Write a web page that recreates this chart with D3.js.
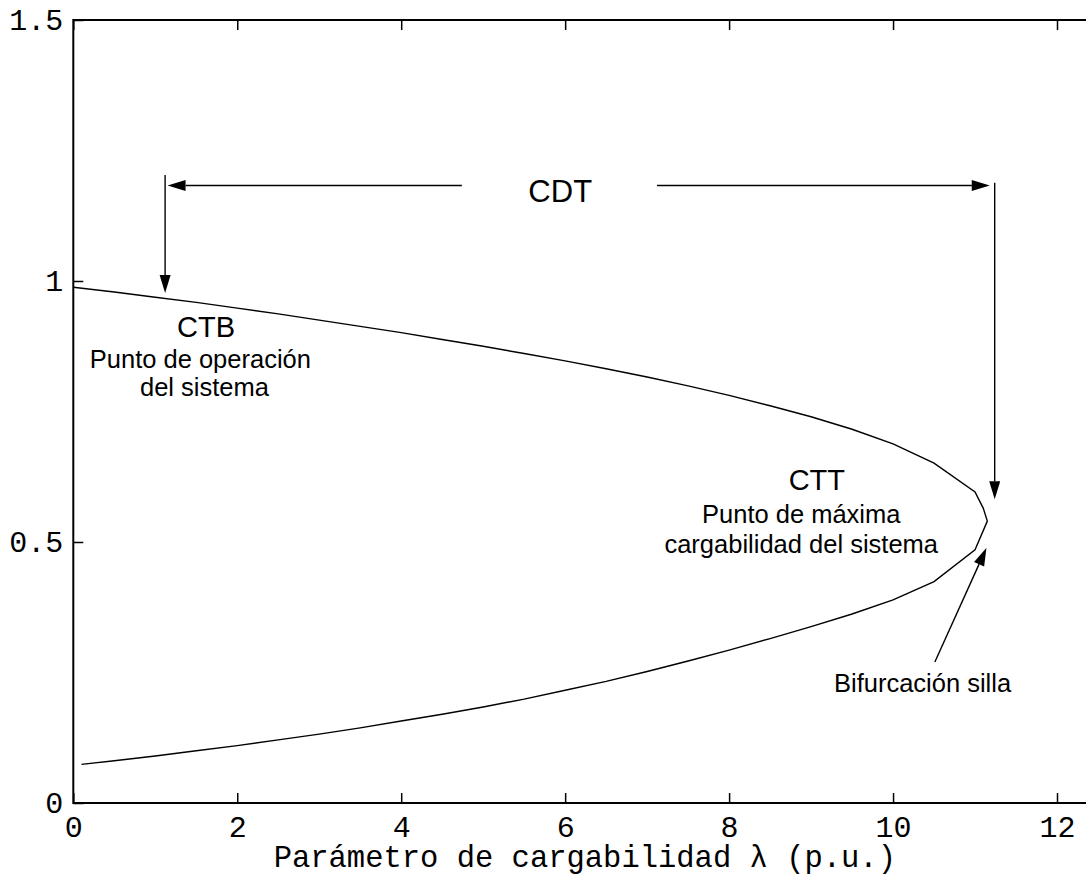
<!DOCTYPE html>
<html>
<head>
<meta charset="utf-8">
<script src="https://cdn.jsdelivr.net/npm/d3@7"></script>
<style>
  html, body { margin: 0; padding: 0; background: #fff; }
  svg { display: block; }
</style>
</head>
<body>
<svg id="chart" width="1086" height="874"></svg>
<script>
// Curva PV: rama superior (estable) desde λ = 0 hasta la nariz
const lambdaUpper = [0, 0.5, 1, 1.5, 2, 2.5, 3, 3.5, 4, 4.5, 5, 5.5, 6, 6.5, 7, 7.5, 8, 8.5, 9, 9.5, 10, 10.5, 11, 11.1, 11.15];
const voltUpper   = [0.988, 0.979, 0.969, 0.959, 0.948, 0.937, 0.925, 0.913, 0.901, 0.888, 0.875, 0.861, 0.847, 0.832, 0.816, 0.799, 0.781, 0.761, 0.740, 0.716, 0.688, 0.651, 0.596, 0.565, 0.540];
// Rama inferior (inestable) desde la nariz hacia λ pequeño
const lambdaLower = [11.15, 11, 10.5, 10, 9.5, 9, 8.5, 8, 7.5, 7, 6.5, 6, 5.5, 5, 4.5, 4, 3.5, 3, 2.5, 2, 1.5, 1, 0.5, 0.1];
const voltLower   = [0.540, 0.485, 0.424, 0.389, 0.362, 0.338, 0.315, 0.293, 0.272, 0.252, 0.233, 0.216, 0.199, 0.184, 0.170, 0.157, 0.144, 0.132, 0.121, 0.110, 0.100, 0.090, 0.081, 0.074];

// Marcas de los ejes
const xTicks = [0, 2, 4, 6, 8, 10, 12];
const yTicks = [0, 0.5, 1, 1.5];
const yTickLabels = ["0", "0.5", "1", "1.5"];

const svg = d3.select("#chart");
const plotLeft = 73.3, plotTop = 20, plotBottom = 803;
const x = d3.scaleLinear().domain([0, 12]).range([plotLeft, 1057]);
const y = d3.scaleLinear().domain([0, 1.5]).range([plotBottom, plotTop]);
const xMax = 12.6;

const monoFont = "'Liberation Mono', 'Courier New', monospace";
const sansFont = "'Liberation Sans', Arial, sans-serif";

// Marco del gráfico (el borde derecho queda fuera de la ventana)
svg.append("rect")
  .attr("x", x(0)).attr("y", y(1.5))
  .attr("width", x(xMax) - x(0)).attr("height", y(0) - y(1.5))
  .attr("fill", "none").attr("stroke", "#000").attr("stroke-width", 2);

// Ejes con marcas hacia dentro
const xAxisB = d3.axisBottom(x).tickValues(xTicks).tickSize(-10).tickPadding(14).tickFormat(d3.format("d"));
const xAxisT = d3.axisTop(x).tickValues(xTicks).tickSize(-10).tickFormat("");
const yAxisL = d3.axisLeft(y).tickValues(yTicks).tickSize(-10).tickPadding(10).tickFormat((d, i) => yTickLabels[i]);

function styleAxis(g) {
  g.select(".domain").remove();
  g.selectAll(".tick line").attr("stroke", "#000").attr("stroke-width", 1.5);
  g.selectAll(".tick text").attr("fill", "#000").attr("font-family", monoFont).attr("font-size", 30);
}
svg.append("g").attr("transform", `translate(0,${y(0)})`).call(xAxisB).call(styleAxis)
  .selectAll(".tick text").attr("dy", "0.68em");
svg.append("g").attr("transform", `translate(0,${y(1.5)})`).call(xAxisT).call(styleAxis);
svg.append("g").attr("transform", `translate(${x(0)},0)`).call(yAxisL).call(styleAxis);

// Título del eje x
svg.append("text")
  .attr("x", x(6.24)).attr("y", 867)
  .attr("text-anchor", "middle")
  .attr("font-family", monoFont).attr("font-size", 30.5)
  .text("Parámetro de cargabilidad λ (p.u.)");

// Curva completa
const pts = lambdaUpper.map((l, i) => [l, voltUpper[i]])
  .concat(lambdaLower.slice(1).map((l, i) => [l, voltLower[i + 1]]));
const line = d3.line().x(d => x(d[0])).y(d => y(d[1]));
svg.append("path").datum(pts)
  .attr("d", line).attr("fill", "none").attr("stroke", "#000").attr("stroke-width", 1.4);

// Flechas de anotación [λ0, v0, λ1, v1] (punta en λ1, v1)
const arrows = [
  [1.12, 1.203, 1.12, 0.977],
  [4.74, 1.183, 1.15, 1.183],
  [7.12, 1.183, 11.18, 1.183],
  [11.24, 1.188, 11.24, 0.582],
  [10.51, 0.270, 11.14, 0.489]
];
arrows.forEach(([l0, v0, l1, v1]) => {
  const x0 = x(l0), y0 = y(v0), x1 = x(l1), y1 = y(v1);
  const len = Math.hypot(x1 - x0, y1 - y0);
  const ux = (x1 - x0) / len, uy = (y1 - y0) / len;
  const hl = 18, hw = 5.5;
  const bx = x1 - ux * hl, by = y1 - uy * hl;
  svg.append("line")
    .attr("x1", x0).attr("y1", y0).attr("x2", bx).attr("y2", by)
    .attr("stroke", "#000").attr("stroke-width", 1.4);
  svg.append("polygon")
    .attr("points", [[x1, y1], [bx - uy * hw, by + ux * hw], [bx + uy * hw, by - ux * hw]].map(p => p.join(",")).join(" "))
    .attr("fill", "#000");
});

// Textos de anotación [λ, v, texto, tamaño]
const labels = [
  [5.94, 1.151, "CDT", 31],
  [1.62, 0.892, "CTB", 29],
  [1.55, 0.834, "Punto de operación", 25.5],
  [1.60, 0.780, "del sistema", 25.5],
  [9.07, 0.599, "CTT", 29],
  [8.88, 0.536, "Punto de máxima", 25.5],
  [8.88, 0.478, "cargabilidad del sistema", 25.5],
  [10.36, 0.212, "Bifurcación silla", 25.5]
];
labels.forEach(([l, v, t, s]) => {
  svg.append("text")
    .attr("x", x(l)).attr("y", y(v))
    .attr("text-anchor", "middle")
    .attr("font-family", sansFont).attr("font-size", s)
    .attr("fill", "#000")
    .text(t);
});
</script>
</body>
</html>
